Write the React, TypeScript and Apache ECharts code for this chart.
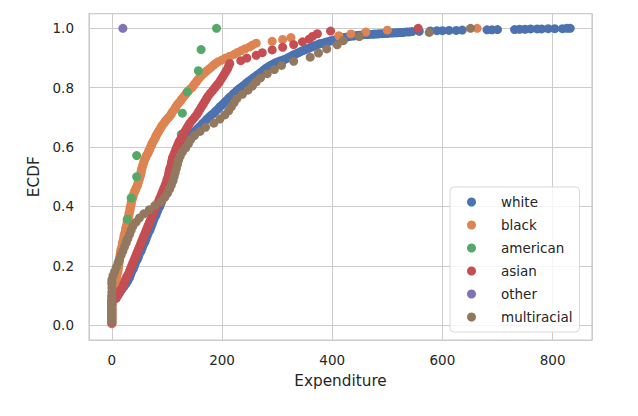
import { useEffect, useRef } from 'react';
import * as echarts from 'echarts';

const groups = ['white', 'black', 'american', 'asian', 'other', 'multiracial'];
const palette = ['#4C72B0', '#DD8452', '#55A868', '#C44E52', '#8172B3', '#937860'];

// white: (expenditure, ECDF) read along the dense band
const whitePoints: [number, number][] = [
  [0, 0.005], [0, 0.02], [0, 0.035], [0, 0.05], [0, 0.065], [0, 0.08],
  [7, 0.09], [10, 0.1], [14, 0.11], [18, 0.12], [22, 0.13], [26, 0.14], [29, 0.15], [32, 0.16],
  [34, 0.17], [36, 0.18], [39, 0.19], [41, 0.2], [43, 0.21], [46, 0.22], [48, 0.23], [50, 0.24],
  [53, 0.25], [55, 0.26], [57, 0.27], [60, 0.28], [62, 0.29], [64, 0.3], [66, 0.31], [69, 0.32],
  [71, 0.33], [73, 0.34], [75, 0.35], [77, 0.36], [80, 0.37], [82, 0.38], [84, 0.39], [87, 0.4],
  [89, 0.41], [91, 0.42], [93, 0.43], [95, 0.44], [97, 0.45], [99, 0.46], [101, 0.47], [103, 0.48],
  [105, 0.49], [107, 0.5], [109, 0.51], [111, 0.52], [113, 0.53], [114, 0.54], [116, 0.55],
  [118, 0.56], [119, 0.57], [121, 0.58], [124, 0.59], [127, 0.6], [131, 0.61], [135, 0.62],
  [139, 0.63], [143, 0.64], [147, 0.648], [152, 0.655], [156, 0.663], [160, 0.67], [164, 0.678],
  [168, 0.685], [172, 0.693], [176, 0.7], [180, 0.707], [184, 0.713], [188, 0.72], [192, 0.727],
  [196, 0.735], [200, 0.742], [204, 0.749], [207, 0.755], [211, 0.762], [214, 0.768], [218, 0.774],
  [221, 0.78], [225, 0.786], [228, 0.792], [232, 0.798], [236, 0.803], [240, 0.809], [244, 0.815],
  [248, 0.821], [252, 0.826], [256, 0.832], [260, 0.837], [264, 0.843], [268, 0.848], [272, 0.854],
  [276, 0.86], [280, 0.866], [285, 0.872], [289, 0.876], [293, 0.88], [297, 0.884], [301, 0.887],
  [305, 0.89], [309, 0.892], [313, 0.895], [316, 0.897], [320, 0.901], [324, 0.905], [328, 0.909],
  [332, 0.912], [336, 0.916], [340, 0.919], [344, 0.923], [348, 0.926], [352, 0.929], [356, 0.932],
  [360, 0.935], [364, 0.938], [368, 0.941], [372, 0.944], [376, 0.947], [380, 0.949], [384, 0.951],
  [388, 0.953], [392, 0.955], [396, 0.957], [400, 0.959], [404, 0.961], [408, 0.963], [412, 0.965],
  [416, 0.967], [420, 0.968], [424, 0.97], [428, 0.971], [432, 0.973], [437, 0.974], [441, 0.975],
  [446, 0.976], [450, 0.977], [455, 0.978], [459, 0.979], [464, 0.979], [468, 0.98], [473, 0.98],
  [477, 0.981], [482, 0.981], [486, 0.982], [491, 0.982], [495, 0.983], [500, 0.983], [504, 0.984],
  [509, 0.984], [513, 0.985], [518, 0.985], [522, 0.986], [527, 0.986], [531, 0.987], [536, 0.988],
  [540, 0.988], [545, 0.989], [558, 0.99], [578, 0.991], [590, 0.992], [600, 0.992], [612, 0.993],
  [625, 0.993], [636, 0.994], [681, 0.995], [690, 0.995], [700, 0.996], [731, 0.996], [740, 0.997],
  [750, 0.997], [760, 0.998], [772, 0.998], [780, 0.998], [792, 0.999], [804, 0.999], [818, 0.999],
  [826, 1], [832, 1]
];

// the other groups: sorted expenditures, ECDF = rank / n
const blackSpend = [
  0, 0, 0, 0, 0, 0, 0, 0, 0, 0, 0, 0, 0, 0, 0, 0,
  2, 3, 4, 5, 6, 6, 7, 7, 8, 9, 9, 10, 11, 11, 12, 12,
  13, 13, 14, 14, 15, 15, 16, 16, 17, 18, 19, 19, 20, 21, 22, 22,
  23, 24, 25, 25, 26, 27, 28, 28, 29, 30, 31, 31, 32, 33, 33, 34,
  35, 35, 36, 37, 38, 39, 40, 41, 43, 44, 46, 47, 48, 49, 50, 51,
  52, 53, 53, 54, 55, 56, 57, 58, 59, 61, 62, 64, 66, 67, 69, 70,
  72, 73, 75, 77, 79, 80, 82, 84, 86, 88, 90, 92, 95, 97, 100, 103,
  106, 108, 110, 113, 115, 117, 119, 122, 125, 127, 130, 133, 135, 138, 141, 145,
  148, 150, 153, 155, 158, 161, 164, 168, 172, 176, 180, 184, 188, 193, 200, 206,
  214, 222, 228, 235, 242, 250, 255, 262, 291, 310, 325, 412, 434, 461, 500, 663
];
const americanSpend = [0, 0, 12, 27, 28, 35, 45, 45, 126, 128, 137, 157, 162, 190];
const asianSpend = [
  0, 0, 0, 0, 0, 0, 0, 0, 0,
  8, 11, 14, 16, 19, 21, 23, 25, 27, 30, 32, 34, 36, 38, 40, 42,
  44, 46, 48, 50, 52, 54, 56, 58, 60, 62, 64, 66, 68, 70, 72, 74,
  76, 78, 80, 83, 85, 87, 89, 91, 93, 95, 97, 99, 100, 102, 103, 104,
  105, 107, 108, 109, 110, 112, 114, 116, 118, 120, 122, 125, 128, 130, 133, 136,
  139, 142, 146, 150, 154, 157, 160, 163, 166, 169, 172, 175, 179, 183, 187, 191,
  195, 198, 201, 204, 207, 210, 212, 214, 234, 245, 262, 273, 291, 310, 330, 346,
  358, 364, 373, 397, 556
];
const otherSpend = [20];
const multiracialSpend = [
  0, 0, 0, 0, 0, 0, 0, 0, 0, 0, 0,
  2, 5, 8, 11, 14, 17, 20, 23, 26, 29, 32, 35, 38,
  44, 50, 58, 68, 78, 90, 96, 101, 105, 108, 111, 113, 115, 117, 119, 121,
  124, 128, 134, 139, 143, 150, 160, 170, 185, 196, 205, 212, 217, 222, 227, 237,
  247, 255, 262, 270, 282, 295, 308, 330, 360, 375, 390, 409, 420, 449, 576, 651
];

const font = 'DejaVu Sans';
const ink = '#262626';
const gridGray = '#cccccc';

function ecdf(values: number[]): [number, number][] {
  return values.map((v, i) => [v, (i + 1) / values.length]);
}

export default function App() {
  const ref = useRef<HTMLDivElement>(null);

  useEffect(() => {
    if (!ref.current) return;
    const chart = echarts.init(ref.current, undefined, { renderer: 'svg' });

    const seriesData = [
      whitePoints,
      ecdf(blackSpend),
      ecdf(americanSpend),
      ecdf(asianSpend),
      ecdf(otherSpend),
      ecdf(multiracialSpend)
    ];

    const option: echarts.EChartsOption = {
      animation: false,
      backgroundColor: '#ffffff',
      color: palette,
      grid: {
        left: 89,
        right: 46,
        top: 13.5,
        bottom: 76,
        show: true,
        borderColor: gridGray,
        borderWidth: 1.25
      },
      legend: {
        data: groups,
        orient: 'vertical',
        left: 450,
        top: 187,
        icon: 'circle',
        itemWidth: 9,
        itemHeight: 9,
        itemGap: 7,
        padding: [7, 7, 7, 17],
        backgroundColor: 'rgba(255,255,255,0.8)',
        borderColor: '#d9d9d9',
        borderWidth: 1,
        borderRadius: 4,
        textStyle: {
          fontFamily: font,
          fontSize: 13.5,
          color: ink,
          lineHeight: 16,
          padding: [0, 0, 0, 20]
        }
      },
      xAxis: {
        type: 'value',
        min: -41.5,
        max: 871.5,
        splitNumber: 5,
        name: 'Expenditure',
        nameLocation: 'middle',
        nameGap: 33,
        nameTextStyle: { fontFamily: font, fontSize: 15.3, color: ink },
        axisLine: { show: false },
        axisTick: { show: false },
        axisLabel: {
          fontFamily: font,
          fontSize: 13.5,
          color: ink,
          margin: 13,
          showMinLabel: false,
          showMaxLabel: false,
          formatter: (v: number) => String(Math.round(v))
        },
        splitLine: { lineStyle: { color: gridGray, width: 1 } }
      },
      yAxis: {
        type: 'value',
        min: -0.05,
        max: 1.05,
        splitNumber: 5,
        name: 'ECDF',
        nameLocation: 'middle',
        nameGap: 40,
        nameTextStyle: { fontFamily: font, fontSize: 15.3, color: ink },
        axisLine: { show: false },
        axisTick: { show: false },
        axisLabel: {
          fontFamily: font,
          fontSize: 13.5,
          color: ink,
          margin: 15,
          showMinLabel: false,
          showMaxLabel: false,
          formatter: (v: number) => v.toFixed(1)
        },
        splitLine: { lineStyle: { color: gridGray, width: 1 } }
      },
      series: groups.map((name, i) => ({
        name,
        type: 'scatter',
        data: seriesData[i],
        symbol: 'circle',
        symbolSize: 9,
        silent: true,
        itemStyle: { color: palette[i], opacity: 1 }
      }))
    };

    chart.setOption(option);
    return () => chart.dispose();
  }, []);

  return (
    <div
      ref={ref}
      style={{ position: 'fixed', left: 0, top: 0, width: 638, height: 416 }}
    />
  );
}
